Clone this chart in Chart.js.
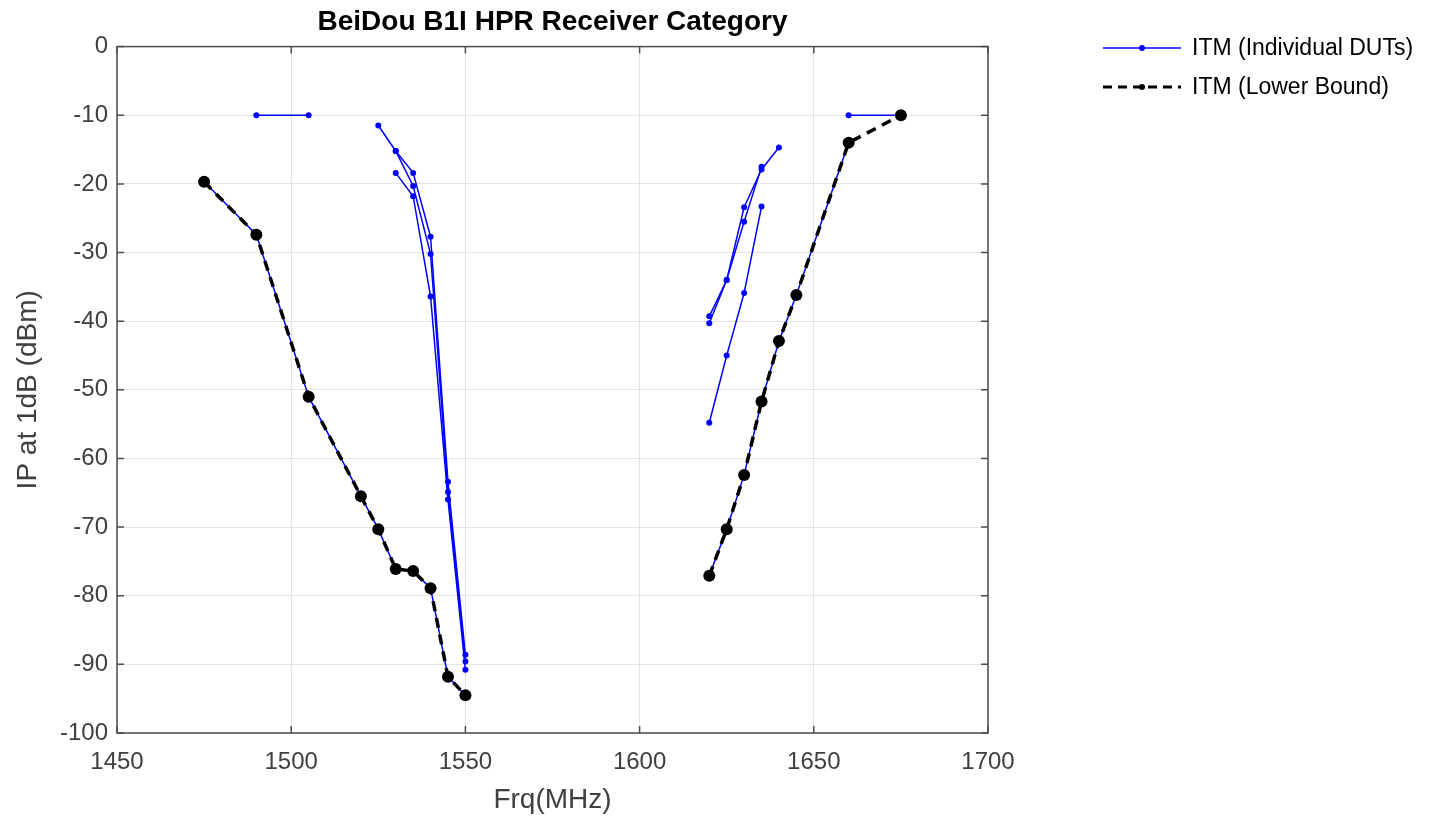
<!DOCTYPE html>
<html>
<head>
<meta charset="utf-8">
<script src="https://cdn.jsdelivr.net/npm/chart.js@4/dist/chart.umd.min.js"></script>
<style>
  html, body { margin: 0; padding: 0; background: #fff; }
  #wrap { width: 1448px; height: 822px; }
</style>
</head>
<body>
<div id="wrap"><canvas id="chart" width="1448" height="822"></canvas></div>
<script>
// tick labels
const xTicks = [1450, 1500, 1550, 1600, 1650, 1700];
const yTicks = [0, -10, -20, -30, -40, -50, -60, -70, -80, -90, -100];

// lower bound (two pieces, gap between the bands)
const lowLeftFrq = [1475, 1490, 1505, 1520, 1525, 1530, 1535, 1540, 1545, 1550];
const lowLeftIp  = [-19.7, -27.4, -51.0, -65.5, -70.3, -76.1, -76.4, -78.9, -91.8, -94.5];
const lowRightFrq = [1620, 1625, 1630, 1635, 1640, 1645, 1660, 1675];
const lowRightIp  = [-77.1, -70.3, -62.4, -51.7, -42.9, -36.2, -14.0, -10.0];

// individual DUTs
const dut1Frq = [1490, 1505];
const dut1Ip  = [-10, -10];
const dut2Frq = [1525, 1530, 1535, 1540, 1545, 1550];
const dut2Ip  = [-11.5, -15.2, -18.4, -27.7, -63.4, -88.6];
const dut3Frq = [1530, 1535, 1540, 1545, 1550];
const dut3Ip  = [-15.2, -20.3, -30.2, -64.9, -89.6];
const dut4Frq = [1530, 1535, 1540, 1545, 1550];
const dut4Ip  = [-18.4, -21.8, -36.4, -66.0, -90.8];
const dut5Frq = [1620, 1625, 1630, 1635, 1640, 1645, 1660];
const dut5Ip  = [-77.1, -70.3, -62.4, -51.7, -42.9, -36.2, -14.0];
const dut6Frq = [1660, 1675];
const dut6Ip  = [-10, -10];
const dut7Frq = [1620, 1625, 1630, 1635, 1640];
const dut7Ip  = [-39.3, -34.0, -23.4, -17.9, -14.7];
const dut8Frq = [1620, 1625, 1630, 1635];
const dut8Ip  = [-40.3, -34.0, -25.5, -17.5];
const dut9Frq = [1620, 1625, 1630, 1635];
const dut9Ip  = [-54.8, -45.0, -35.9, -23.3];

const FONT = "'Liberation Sans', Arial, sans-serif";
const BLUE = '#0000ff';

function pts(frq, ip) {
    return frq.map((f, i) => ({ x: f, y: ip[i] }));
}

function dutSet(frq, ip) {
    return {
        label: 'ITM (Individual DUTs)',
        data: pts(frq, ip),
        borderColor: BLUE,
        backgroundColor: BLUE,
        borderWidth: 1.5,
        pointRadius: 3,
        pointBorderWidth: 0,
        showLine: true,
        order: 2
    };
}

function lowSet(frq, ip) {
    return {
        label: 'ITM (Lower Bound)',
        data: pts(frq, ip),
        borderColor: '#000',
        backgroundColor: '#000',
        borderWidth: 3.5,
        borderDash: [10, 7],
        pointRadius: 6,
        pointBorderWidth: 0,
        showLine: true,
        order: 1
    };
}

const datasets = [
    dutSet(dut1Frq, dut1Ip),
    dutSet(dut2Frq, dut2Ip),
    dutSet(dut3Frq, dut3Ip),
    dutSet(dut4Frq, dut4Ip),
    dutSet(lowLeftFrq, lowLeftIp),
    dutSet(dut5Frq, dut5Ip),
    dutSet(dut6Frq, dut6Ip),
    dutSet(dut7Frq, dut7Ip),
    dutSet(dut8Frq, dut8Ip),
    dutSet(dut9Frq, dut9Ip),
    lowSet(lowLeftFrq, lowLeftIp),
    lowSet(lowRightFrq, lowRightIp)
];

// axes box with inward ticks + legend on the right
const boxPlugin = {
    id: 'box',
    afterDraw(chart) {
        const ctx = chart.ctx;
        const a = chart.chartArea;
        const xs = chart.scales.x, ys = chart.scales.y;
        ctx.save();
        ctx.strokeStyle = '#4d4d4d';
        ctx.lineWidth = 1.5;
        ctx.setLineDash([]);
        ctx.strokeRect(a.left, a.top, a.right - a.left, a.bottom - a.top);
        ctx.beginPath();
        xTicks.forEach(v => {
            const px = xs.getPixelForValue(v);
            ctx.moveTo(px, a.bottom); ctx.lineTo(px, a.bottom - 7);
            ctx.moveTo(px, a.top); ctx.lineTo(px, a.top + 7);
        });
        yTicks.forEach(v => {
            const py = ys.getPixelForValue(v);
            ctx.moveTo(a.left, py); ctx.lineTo(a.left + 7, py);
            ctx.moveTo(a.right, py); ctx.lineTo(a.right - 7, py);
        });
        ctx.stroke();

        // legend
        const items = [datasets[0], datasets[datasets.length - 1]];
        const x0 = 1103, x1 = 1181, tx = 1192;
        items.forEach((ds, i) => {
            const y = 48 + i * 39;
            ctx.strokeStyle = ds.borderColor;
            ctx.lineWidth = ds.borderDash ? 3 : 1.5;
            ctx.setLineDash(ds.borderDash ? [9, 6] : []);
            ctx.beginPath();
            ctx.moveTo(x0, y); ctx.lineTo(x1, y);
            ctx.stroke();
            ctx.setLineDash([]);
            ctx.fillStyle = ds.borderColor;
            ctx.beginPath();
            ctx.arc((x0 + x1) / 2, y, 3, 0, Math.PI * 2);
            ctx.fill();
            ctx.fillStyle = '#000';
            ctx.font = '23px ' + FONT;
            ctx.textBaseline = 'middle';
            ctx.textAlign = 'left';
            ctx.fillText(ds.label, tx, y + 1);
        });
        ctx.restore();
    }
};

const ctx = document.getElementById('chart').getContext('2d');
new Chart(ctx, {
    type: 'scatter',
    data: { datasets: datasets },
    options: {
        responsive: false,
        animation: false,
        events: [],
        layout: { padding: { left: 0, right: 460, top: 0, bottom: 0 } },
        plugins: {
            legend: { display: false },
            tooltip: { enabled: false },
            title: {
                display: true,
                text: 'BeiDou B1I HPR Receiver Category',
                fullSize: false,
                color: '#000',
                font: { family: FONT, size: 28, weight: 'bold' },
                padding: { top: 5, bottom: 8 }
            }
        },
        scales: {
            x: {
                type: 'linear',
                min: 1450,
                max: 1700,
                afterFit(scale) { scale.height = 89; },
                afterBuildTicks(scale) { scale.ticks = xTicks.map(v => ({ value: v })); },
                ticks: {
                    color: '#404040',
                    font: { family: FONT, size: 24 },
                    padding: 15,
                    maxRotation: 0,
                    callback: v => String(v)
                },
                grid: { color: '#e3e3e3', lineWidth: 1, drawTicks: false },
                border: { display: false },
                title: {
                    display: true,
                    text: 'Frq(MHz)',
                    color: '#404040',
                    font: { family: FONT, size: 28 },
                    padding: { top: 0, bottom: 5 }
                }
            },
            y: {
                type: 'linear',
                min: -100,
                max: 0,
                afterFit(scale) { scale.width = 117; },
                afterBuildTicks(scale) { scale.ticks = yTicks.map(v => ({ value: v })); },
                ticks: {
                    color: '#404040',
                    font: { family: FONT, size: 24 },
                    padding: 9,
                    callback: v => String(v)
                },
                grid: { color: '#e3e3e3', lineWidth: 1, drawTicks: false },
                border: { display: false },
                title: {
                    display: true,
                    text: 'IP at 1dB (dBm)',
                    color: '#404040',
                    font: { family: FONT, size: 28 },
                    padding: { top: 11, bottom: 0 }
                }
            }
        }
    },
    plugins: [boxPlugin]
});
</script>
</body>
</html>
